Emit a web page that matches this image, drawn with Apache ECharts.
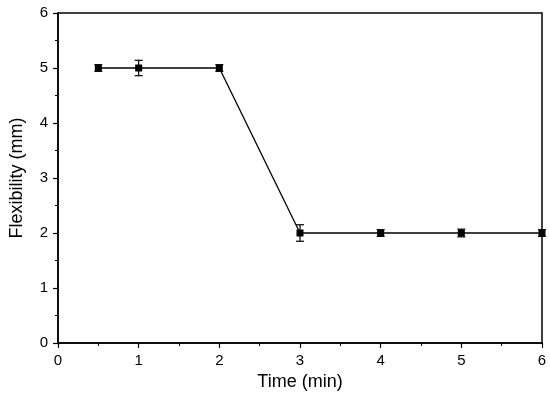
<!DOCTYPE html>
<html>
<head>
<meta charset="utf-8">
<script src="https://cdn.jsdelivr.net/npm/echarts@6/dist/echarts.min.js"></script>
<style>html,body{margin:0;padding:0;background:#fff}#c{width:550px;height:396px}</style>
</head>
<body>
<div id="c"></div>
<script>
const times = [0.5, 1, 2, 3, 4, 5, 6];
const flexibility = [5, 5, 5, 2, 2, 2, 2];
const errors = [0.06, 0.14, 0.06, 0.15, 0.06, 0.07, 0.06];
const xTicks = [0, 1, 2, 3, 4, 5, 6];
const yTicks = [0, 1, 2, 3, 4, 5, 6];

const chart = echarts.init(document.getElementById('c'), null, {renderer: 'canvas'});
const font = 'Liberation Sans, Arial, sans-serif';
const axisCommon = {
  axisLine: {show: true, lineStyle: {color: '#000', width: 1.5}},
  axisTick: {show: true, inside: false, length: 5, lineStyle: {color: '#000', width: 1.2}},
  minorTick: {show: true, splitNumber: 2, length: 3, lineStyle: {color: '#000', width: 1}},
  splitLine: {show: false},
  axisLabel: {color: '#000', fontSize: 15, fontFamily: font}
};
chart.setOption({
  animation: false,
  grid: {left: 56, top: 13, right: 8, bottom: 53, show: true, borderColor: '#000', borderWidth: 1.5, backgroundColor: 'transparent'},
  xAxis: Object.assign({}, axisCommon, {
    type: 'value', min: xTicks[0], max: xTicks[xTicks.length - 1], interval: 1,
    name: 'Time (min)', nameLocation: 'middle', nameGap: 29,
    nameTextStyle: {color: '#000', fontSize: 18, fontFamily: font},
    axisLabel: Object.assign({}, axisCommon.axisLabel, {margin: 10})
  }),
  yAxis: Object.assign({}, axisCommon, {
    type: 'value', min: yTicks[0], max: yTicks[yTicks.length - 1], interval: 1,
    name: 'Flexibility (mm)', nameLocation: 'middle', nameGap: 32,
    nameTextStyle: {color: '#000', fontSize: 18, fontFamily: font},
    axisLabel: Object.assign({}, axisCommon.axisLabel, {margin: 10})
  }),
  series: [
    {
      type: 'line',
      data: times.map((t, i) => [t, flexibility[i]]),
      symbol: 'rect', symbolSize: 7, showSymbol: true,
      itemStyle: {color: '#000'},
      lineStyle: {color: '#000', width: 1.3},
      clip: false, z: 3
    },
    {
      type: 'custom',
      clip: false,
      data: times.map((t, i) => [t, flexibility[i], errors[i]]),
      renderItem: function (params, api) {
        const x = api.value(0), y = api.value(1), e = api.value(2);
        const hi = api.coord([x, y + e]);
        const lo = api.coord([x, y - e]);
        const w = 4;
        const st = {stroke: '#000', lineWidth: 1.2};
        return {
          type: 'group',
          children: [
            {type: 'line', shape: {x1: hi[0], y1: hi[1], x2: lo[0], y2: lo[1]}, style: st},
            {type: 'line', shape: {x1: hi[0] - w, y1: hi[1], x2: hi[0] + w, y2: hi[1]}, style: st},
            {type: 'line', shape: {x1: lo[0] - w, y1: lo[1], x2: lo[0] + w, y2: lo[1]}, style: st}
          ]
        };
      },
      z: 4
    }
  ]
});
</script>
</body>
</html>
